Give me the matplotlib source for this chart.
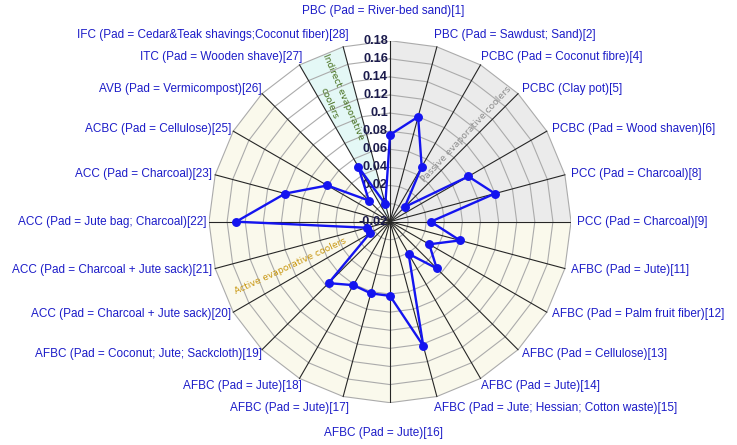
import numpy as np
import matplotlib.pyplot as plt

# Cooler configurations on the spokes, clockwise from the top
categories = [
    "PBC (Pad = River-bed sand)[1]",
    "PBC (Pad = Sawdust; Sand)[2]",
    "PCBC (Pad = Coconut fibre)[4]",
    "PCBC (Clay pot)[5]",
    "PCBC (Pad = Wood shaven)[6]",
    "PCC (Pad = Charcoal)[8]",
    "PCC (Pad = Charcoal)[9]",
    "AFBC (Pad = Jute)[11]",
    "AFBC (Pad = Palm fruit fiber)[12]",
    "AFBC (Pad = Cellulose)[13]",
    "AFBC (Pad = Jute)[14]",
    "AFBC (Pad = Jute; Hessian; Cotton waste)[15]",
    "AFBC (Pad = Jute)[16]",
    "AFBC (Pad = Jute)[17]",
    "AFBC (Pad = Jute)[18]",
    "AFBC (Pad = Coconut; Jute; Sackcloth)[19]",
    "ACC (Pad = Charcoal + Jute sack)[20]",
    "ACC (Pad = Charcoal + Jute sack)[21]",
    "ACC (Pad = Jute bag; Charcoal)[22]",
    "ACC (Pad = Charcoal)[23]",
    "ACBC (Pad = Cellulose)[25]",
    "AVB (Pad = Vermicompost)[26]",
    "ITC (Pad = Wooden shave)[27]",
    "IFC (Pad = Cedar&Teak shavings;Coconut fiber)[28]",
]

values = [0.076, 0.100, 0.050, 0.003, 0.080, 0.100, 0.025,
          0.060, 0.030, 0.053, 0.021, 0.122, 0.062, 0.062,
          0.061, 0.076, 0.006, 0.006, 0.150, 0.100, 0.060,
          0.013, 0.050, 0.000]

r_min, r_max = -0.02, 0.18
ring_levels = [0.0, 0.02, 0.04, 0.06, 0.08, 0.10, 0.12, 0.14, 0.16, 0.18]
tick_values = [-0.02, 0.0, 0.02, 0.04, 0.06, 0.08, 0.10, 0.12, 0.14, 0.16, 0.18]
tick_labels = ["-0.02", "0", "0.02", "0.04", "0.06", "0.08", "0.1",
               "0.12", "0.14", "0.16", "0.18"]

# cooler families: first and last spoke of each shaded sector
group_names = ["Passive evaporative coolers", "Active evaporative coolers",
               "Indirect evaporative\ncoolers"]
group_spans = [(0, 6), (6, 21), (22, 23)]
group_fills = ["#ebebeb", "#faf9ec", "#e4f8f6"]
group_text_colors = ["#8c8c8c", "#c8960f", "#466e1c"]
# (angle in degrees clockwise from top, radius, rotation)
group_text_pos = [(41, 0.108, 47), (246, 0.101, 25), (336, 0.127, -67)]

label_font = "Liberation Sans"

n = len(categories)
theta = np.deg2rad(np.arange(n) * 360.0 / n)


def to_xy(t, v):
    """Spoke angle (clockwise from north) and value -> plane coordinates."""
    rr = np.asarray(v, dtype=float) - r_min
    return rr * np.sin(t), rr * np.cos(t)


fig = plt.figure(figsize=(7.37, 4.45), dpi=100)
ax = fig.add_axes([0.2836, 0.0951, 0.4912, 0.8135])
span = r_max - r_min
ax.set_xlim(-span, span)
ax.set_ylim(-span, span)
ax.set_aspect("equal")
ax.axis("off")

# shaded sectors
for (i0, i1), fc in zip(group_spans, group_fills):
    ox, oy = to_xy(theta[i0:i1 + 1], [r_max] * (i1 - i0 + 1))
    ax.fill(np.r_[0, ox], np.r_[0, oy], color=fc, lw=0, zorder=1)

# web rings and spokes
tc = np.append(theta, theta[0])
for lvl in ring_levels:
    rx, ry = to_xy(tc, [lvl] * (n + 1))
    ax.plot(rx, ry, color="#ababab", lw=0.8, zorder=2)
for t in theta:
    sx, sy = to_xy(np.array([t, t]), [r_min, r_max])
    ax.plot(sx, sy, color="#262626", lw=0.8, zorder=3)

# radial tick labels along the top spoke
for v, s in zip(tick_values, tick_labels):
    ax.annotate(s, xy=to_xy(0.0, v), xytext=(-1.5, 0), textcoords="offset points",
                ha="right", va="center", fontsize=9.2, fontweight="bold",
                color="#1b1b4d", family=label_font, zorder=4,
                annotation_clip=False)

# group captions
for name, col, (tdeg, rr, rot) in zip(group_names, group_text_colors, group_text_pos):
    gx, gy = to_xy(np.deg2rad(tdeg), rr)
    ax.text(gx, gy, name, color=col, fontsize=6.6, rotation=rot,
            rotation_mode="anchor", ha="center", va="center",
            linespacing=1.9, zorder=4)

# data polygon
px, py = to_xy(theta, values)
ax.plot(np.append(px, px[0]), np.append(py, py[0]), color="#1414f0",
        lw=1.7, zorder=5)
ax.plot(px, py, "o", color="#1414f0", ms=5.4, zorder=6)

# category labels around the web
for t, lab in zip(theta, categories):
    a = np.pi / 2 - t
    c, s = np.cos(a), np.sin(a)
    if abs(c) < 0.1:
        ha, dx, dy = "center", -7.0, 30.0 * np.sign(s)
    elif c > 0:
        ha, dx, dy = "left", 6 - 10 * s ** 4, s * (4 + 9 * s ** 4)
    else:
        ha, dx, dy = "right", -(3 - 10 * s ** 4), s * (4 + 9 * s ** 4)
    ax.annotate(lab, xy=to_xy(t, r_max), xytext=(dx * 0.72, dy * 0.72),
                textcoords="offset points", ha=ha, va="center",
                fontsize=8.5, color="#1c1cc8", family=label_font,
                annotation_clip=False)

fig.savefig("out.png", dpi=100)
